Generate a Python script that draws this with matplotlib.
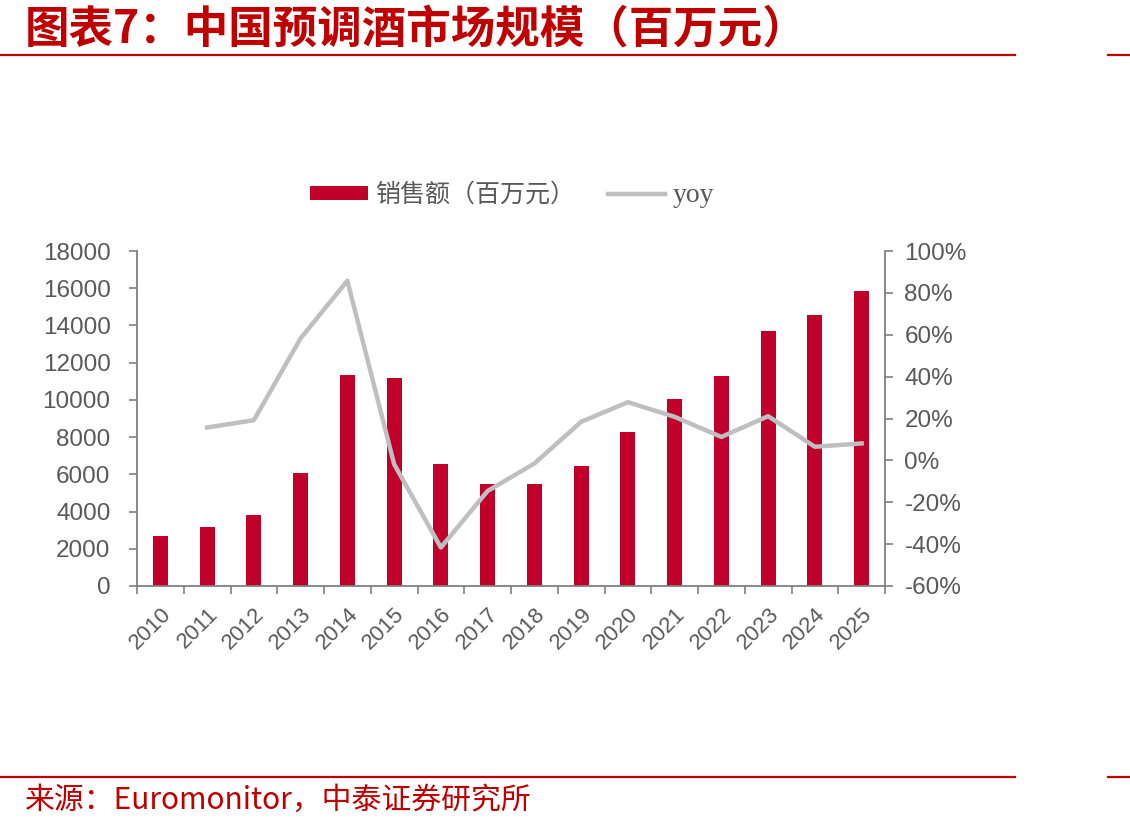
import matplotlib
matplotlib.use("Agg")
import matplotlib.pyplot as plt
from matplotlib.lines import Line2D
from matplotlib.patches import Patch
from matplotlib.ticker import FixedLocator, FuncFormatter
import numpy as np

years = [str(y) for y in range(2010, 2026)]
sales = [2700, 3170, 3800, 6050, 11350, 11200, 6530, 5490, 5490, 6460,
         8300, 10060, 11270, 13680, 14550, 15840]
yoy = [np.nan, 15.7, 19.2, 58.3, 85.8, -1.8, -41.6, -14.6, -1.5, 18.4,
       27.8, 20.8, 11.2, 21.1, 6.5, 8.1]

RED = "#C0002B"
TXT = "#595959"
AXC = "#808080"

plt.rcParams["font.family"] = ["Liberation Sans", "Noto Sans CJK SC", "DejaVu Sans"]

fig = plt.figure(figsize=(11.3, 8.31), dpi=100)
ax = fig.add_axes([137 / 1130, 1 - 586 / 831, (885 - 137) / 1130, (586 - 251) / 831])
ax2 = ax.twinx()

x = np.arange(len(years))
ax.bar(x, sales, width=0.32, color=RED, zorder=2)
ax2.plot(x, yoy, color="#BFBFBF", lw=3.2, zorder=3)

ax.set_xlim(-0.5, len(years) - 0.5)
ax.set_ylim(0, 18000)
ax.set_yticks(range(0, 18001, 2000))
ax2.set_ylim(-60, 100)
ax2.set_yticks(range(-60, 101, 20))
ax2.yaxis.set_major_formatter(FuncFormatter(lambda v, p: f"{v:.0f}%"))

# ticks at category edges, labels at centers
ax.xaxis.set_major_locator(FixedLocator(np.arange(-0.5, len(years), 1.0)))
ax.xaxis.set_major_formatter(FuncFormatter(lambda v, p: ""))
ax.xaxis.set_minor_locator(FixedLocator(x))
ax.set_xticklabels(years, minor=True, rotation=45, ha="right", va="top",
                   rotation_mode="anchor")
ax.tick_params(axis="x", which="minor", length=0, pad=13, labelsize=16, labelcolor=TXT)
ax.tick_params(axis="x", which="major", length=6, color=AXC, width=1.2)

for a in (ax, ax2):
    for s in a.spines.values():
        s.set_visible(False)
    a.tick_params(axis="y", length=6, color=AXC, width=1.2, labelsize=17.5,
                  labelcolor=TXT)
ax.tick_params(axis="y", pad=13)
ax2.tick_params(axis="y", pad=8)
ax.spines["left"].set_visible(True)
ax.spines["bottom"].set_visible(True)
ax2.spines["right"].set_visible(True)
for s in (ax.spines["left"], ax.spines["bottom"], ax2.spines["right"]):
    s.set_color(AXC)
    s.set_linewidth(1.3)

handles = [Patch(facecolor=RED, edgecolor="none"),
           Line2D([0], [0], color="#BFBFBF", lw=3.2)]
leg = fig.legend(handles, ["销售额（百万元）", "yoy"], loc="center",
                 bbox_to_anchor=(512 / 1130, 1 - 195 / 831), ncol=2, frameon=False,
                 handlelength=2.3, handleheight=0.5, handletextpad=0.3,
                 columnspacing=1.3, prop={"family": ["Noto Sans CJK SC"], "size": 18})
for t in leg.get_texts():
    t.set_color(TXT)
leg.get_texts()[1].set_fontfamily("Liberation Serif")
leg.get_texts()[1].set_fontsize(20)

fig.text(25 / 1130, 1 - 30 / 831, "图表7：中国预调酒市场规模（百万元）", color="#C00000",
         fontsize=32, fontweight="bold", va="center", ha="left",
         family=["Noto Sans CJK SC", "DejaVu Sans"])
fig.text(25 / 1130, 1 - 800 / 831, "来源：Euromonitor，中泰证券研究所", color="#C00000",
         fontsize=21.5, va="center", ha="left",
         family=["Noto Sans CJK SC", "DejaVu Sans"])

for yy in (1 - 55 / 831, 1 - 777 / 831):
    fig.add_artist(Line2D([0, 1015 / 1130], [yy, yy], color="#C00000", lw=1.6))
    fig.add_artist(Line2D([1108 / 1130, 1], [yy, yy], color="#C00000", lw=1.6))

fig.savefig("out.png", dpi=100)
